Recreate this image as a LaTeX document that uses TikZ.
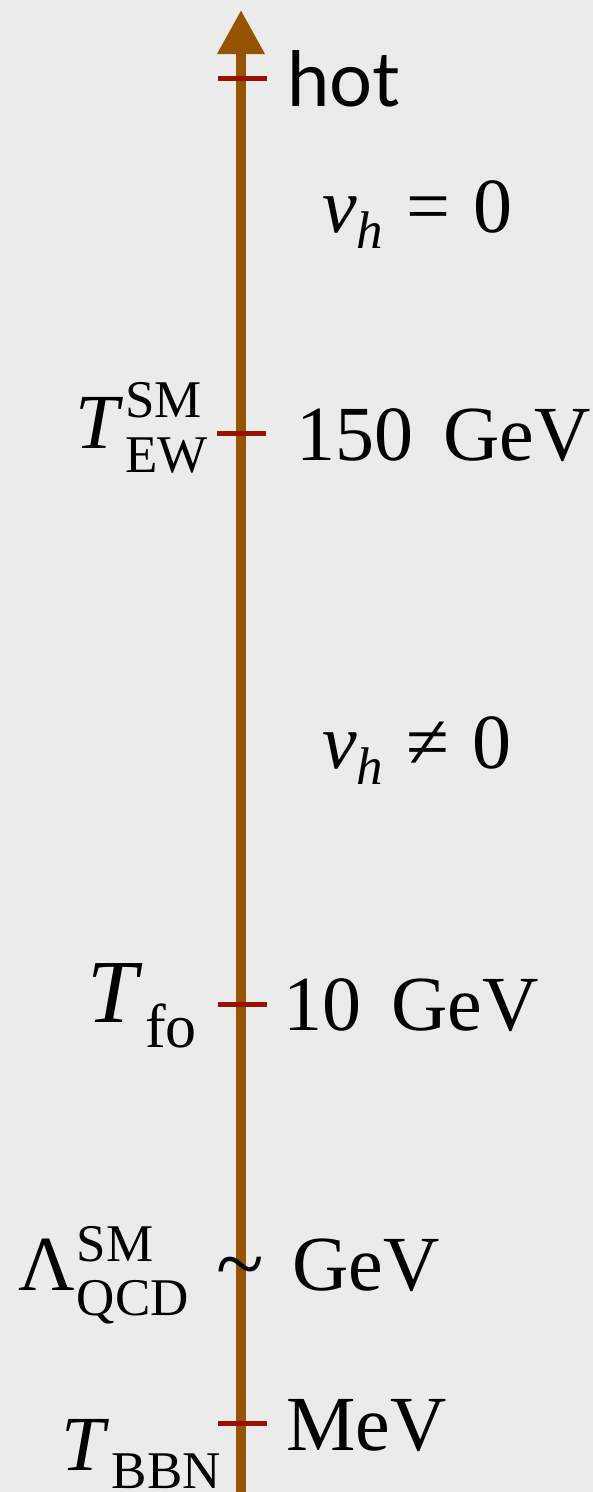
\documentclass[tikz,border=0pt]{standalone}
\usepackage{fontspec}
\setmainfont{Liberation Serif}
\newfontfamily\hotfont{Lato}
\usetikzlibrary{arrows.meta}
\definecolor{bg}{RGB}{235,235,235}
\definecolor{axisbrown}{RGB}{150,84,0}
\definecolor{tickred}{RGB}{155,16,0}
\newcommand\scr[1]{{\fontsize{53}{60}\selectfont #1}}
\newcommand\supsub[4]{\rlap{\raisebox{#3}{\scr{#1}}}\raisebox{-#4}{\scr{#2}}}
\tikzset{
  axisline/.style={draw=axisbrown, line width=10pt, -{Triangle[width=45pt,length=44pt]}},
  tickmark/.style={draw=tickred, line width=5pt},
  rlabel/.style={anchor=base west, inner sep=0pt, font=\fontsize{78}{90}\selectfont},
  llabel/.style={anchor=base east, inner sep=0pt, font=\fontsize{78}{90}\selectfont},
}
\begin{document}
\begin{tikzpicture}[x=1pt,y=-1pt]
\fill[bg] (0,0) rectangle (593,1492);
\useasboundingbox (0,0) rectangle (593,1492);
\coordinate (bot) at (241,1495);
\coordinate (top) at (241,10);
\draw[axisline] (bot) -- (top);
% ticks
\coordinate (t1a) at (218,78);   \coordinate (t1b) at (267,78);
\coordinate (t2a) at (217,433);  \coordinate (t2b) at (266,433);
\coordinate (t3a) at (218,1004); \coordinate (t3b) at (267,1004);
\coordinate (t4a) at (218,1423); \coordinate (t4b) at (267,1423);
\draw[tickmark] (t1a) -- (t1b);
\draw[tickmark] (t2a) -- (t2b);
\draw[tickmark] (t3a) -- (t3b);
\draw[tickmark] (t4a) -- (t4b);
% right labels
\node[rlabel, font=\fontsize{76}{90}\hotfont] (hot) at (287,106) {hot};
\node[rlabel] (vzero) at (322,232) {\textit{v}\raisebox{-16pt}{\scr{\textit{h}}}\hspace{23pt}=\hspace{23pt}0};
\node[rlabel] (ew) at (296,460) {150\hspace{30pt}GeV};
\node[rlabel] (vnz) at (322,768) {\textit{v}\raisebox{-16pt}{\scr{\textit{h}}}\hspace{23pt}≠\hspace{23pt}0};
\node[rlabel] (fo) at (283,1030) {10\hspace{30pt}GeV};
\node[rlabel] (qcd) at (292,1290) {GeV};
\node[rlabel] (bbn) at (286,1450) {MeV};
% left labels
\node[llabel] (Tew) at (208,448) {\textit{T}\hspace{2pt}\supsub{SM}{EW}{31pt}{24pt}};
\node[llabel, font=\fontsize{90}{100}\selectfont] (Tfo) at (197,1022) {\textit{T}\hspace{2pt}\raisebox{-25pt}{{\fontsize{62}{70}\selectfont fo}}};
\node[llabel] (Lqcd) at (189,1290) {Λ\hspace{2pt}\supsub{SM}{QCD}{29pt}{25pt}};
\node[anchor=base, inner sep=0pt, font=\fontsize{88}{90}\selectfont] (sim) at (240,1293) {\symbol{"7E}};
\node[llabel] (Tbbn) at (221,1470) {\textit{T}\hspace{2pt}\raisebox{-18pt}{\scr{BBN}}};
\end{tikzpicture}
\end{document}
